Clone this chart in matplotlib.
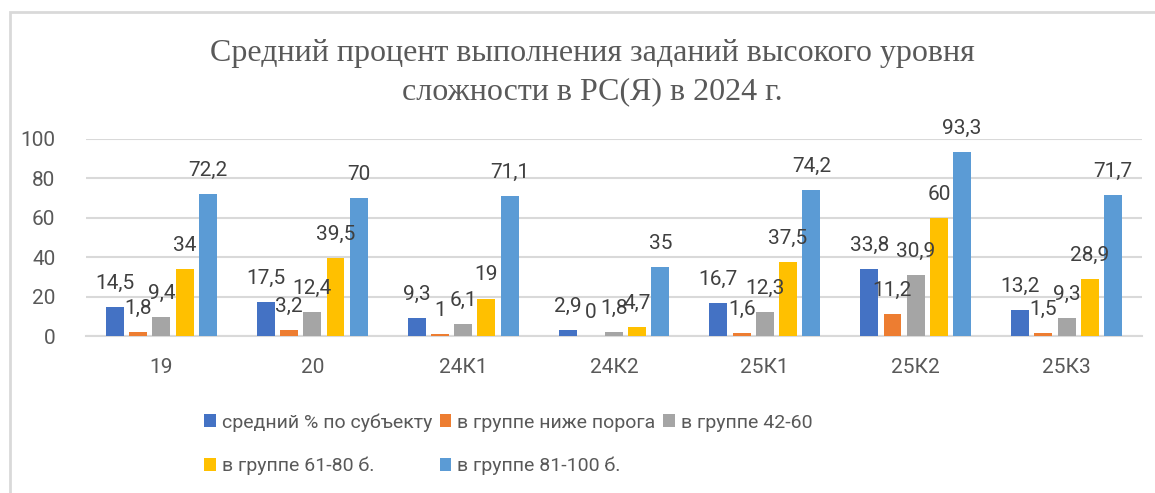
import numpy as np
import matplotlib.pyplot as plt
from matplotlib.patches import Rectangle

plt.rcParams['font.family'] = ['Roboto', 'DejaVu Sans']

categories = ['19', '20', '24К1', '24К2', '25К1', '25К2', '25К3']
series_names = ['средний % по субъекту', 'в группе ниже порога', 'в группе 42-60',
                'в группе 61-80 б.', 'в группе 81-100 б.']
avg_subject = [14.5, 17.5, 9.3, 2.9, 16.7, 33.8, 13.2]
below_thr = [1.8, 3.2, 1, 0, 1.6, 11.2, 1.5]
grp_42_60 = [9.4, 12.4, 6.1, 1.8, 12.3, 30.9, 9.3]
grp_61_80 = [34, 39.5, 19, 4.7, 37.5, 60, 28.9]
grp_81_100 = [72.2, 70, 71.1, 35, 74.2, 93.3, 71.7]
colors = ['#4472C4', '#ED7D31', '#A5A5A5', '#FFC000', '#5B9BD5']

data = [avg_subject, below_thr, grp_42_60, grp_61_80, grp_81_100]
txt = '#595959'
grid_c = '#D9D9D9'

fig = plt.figure(figsize=(11.55, 4.93), dpi=100)
ax = fig.add_axes([86/1155, 1-336/493, 1056/1155, 197/493])

x = np.arange(len(categories))
step = 0.154
w = 0.119
handles = []
for i, (vals, c) in enumerate(zip(data, colors)):
    pos = x + (i - 2) * step
    b = ax.bar(pos, vals, width=w, color=c, label=series_names[i], zorder=3)
    handles.append(b)
    for p, v in zip(pos, vals):
        s = ('%g' % v).replace('.', ',')
        ax.annotate(s, (p, v), xytext=(0, 17), textcoords='offset points',
                    ha='center', va='center', fontsize=15, color='#404040', zorder=5)

ax.set_xlim(-0.5, len(categories) - 0.5)
ax.set_ylim(0, 100)
ax.set_yticks(range(0, 101, 20))
ax.set_xticks(x)
ax.set_xticklabels(categories)
ax.yaxis.grid(True, color=grid_c, linewidth=1.5, zorder=0)
ax.set_axisbelow(True)
for s in ['top', 'right', 'left']:
    ax.spines[s].set_visible(False)
ax.spines['bottom'].set_color(grid_c)
ax.spines['bottom'].set_linewidth(1.5)
ax.tick_params(axis='both', length=0, labelsize=15, colors=txt)
ax.tick_params(axis='y', pad=22)
ax.tick_params(axis='x', pad=16)

fig.text(0.513, 0.853, 'Средний процент выполнения заданий высокого уровня\nсложности в РС(Я) в 2024 г.',
         ha='center', va='center', fontsize=23, color=txt, family='Liberation Serif',
         linespacing=1.42)

order = [0, 3, 1, 4, 2]
leg = fig.legend([handles[i] for i in order], [series_names[i] for i in order],
                 ncol=3, loc='upper left', bbox_to_anchor=(0.170, 0.178),
                 frameon=False, fontsize=14, labelcolor=txt, handlelength=0.6,
                 handleheight=0.6, handletextpad=0.3, columnspacing=0.4,
                 labelspacing=1.3, borderaxespad=0)

fig.patches.append(Rectangle((10/1155, -0.1), 1.2, 1 - 12/493 + 0.1, transform=fig.transFigure,
                             fill=False, edgecolor=grid_c, linewidth=2))

fig.savefig('out.png', dpi=100)
